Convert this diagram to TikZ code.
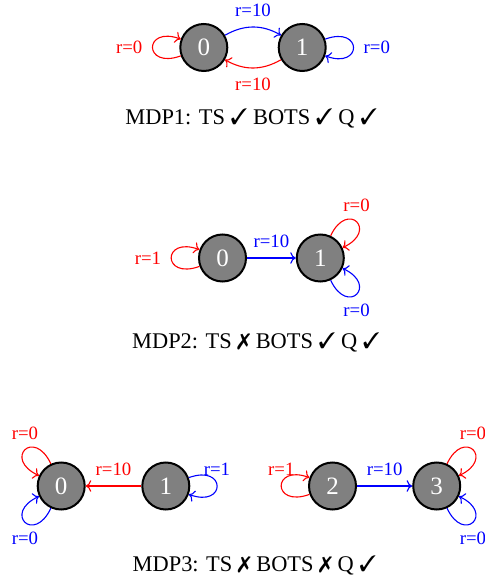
\documentclass[tikz,border=0pt]{standalone}
\usepackage{fontspec}
\setmainfont{Liberation Serif}
\usepackage{pifont}
\usetikzlibrary{arrows.meta}
\begin{document}
\begin{tikzpicture}[x=0.5pt,y=0.5pt,
  state/.style={circle,draw=black,line width=1pt,fill=gray,text=white,minimum size=23.5pt,inner sep=0pt,font=\fontsize{12.5}{13}\selectfont},
  lab/.style={font=\fontsize{9.4}{10}\selectfont},
  edg/.style={line width=0.55pt,-{To[length=2.8pt,width=5.8pt]}},
  redE/.style={edg,red},
  blueE/.style={edg,blue},
  captxt/.style={font=\fontsize{11.2}{13}\selectfont,anchor=base,inner sep=0pt},
  lp/.style={distance=20pt}
]
\useasboundingbox (0,0) rectangle (485,-588);

% MDP1
\node[state] (a0) at (203.8,-47.5) {0};
\node[state] (a1) at (302.2,-47.5) {1};
\draw[blueE] (a0) to[bend left=30] node[lab,above=1.5pt] {r=10} (a1);
\draw[redE] (a1) to[bend left=30] node[lab,below=1.5pt] {r=10} (a0);
\draw[redE] (a0) to[out=200,in=160,lp] node[lab,left=1.5pt] {r=0} (a0);
\draw[blueE] (a1) to[out=20,in=-20,lp] node[lab,right=1.5pt] {r=0} (a1);
\node[captxt] (t1) at (251.3,-125) {MDP1: TS \ding{51} BOTS \ding{51} Q \ding{51}};

% MDP2
\node[state] (b0) at (222.5,-258) {0};
\node[state] (b1) at (320.3,-258) {1};
\draw[blueE] (b0) -- node[lab,above=1.5pt] {r=10} (b1);
\draw[redE] (b0) to[out=200,in=160,lp] node[lab,left=1.5pt] {r=1} (b0);
\draw[redE] (b1) to[out=65,in=25,lp] node[lab,above=1.5pt] {r=0} (b1);
\draw[blueE] (b1) to[out=-65,in=-25,lp] node[lab,below=1.5pt] {r=0} (b1);
\node[captxt] (t2) at (256,-348.3) {MDP2: TS \ding{55} BOTS \ding{51} Q \ding{51}};

% MDP3
\node[state] (c0) at (61.2,-486) {0};
\node[state] (c1) at (165.8,-486) {1};
\node[state] (c2) at (332.5,-486) {2};
\node[state] (c3) at (436.7,-486) {3};
\draw[redE] (c1) -- node[lab,above=1.5pt] {r=10} (c0);
\draw[redE] (c0) to[out=115,in=155,lp] node[lab,above=1.5pt] {r=0} (c0);
\draw[blueE] (c0) to[out=245,in=205,lp] node[lab,below=1.5pt] {r=0} (c0);
\draw[blueE] (c1) to[out=20,in=-20,lp] node[lab,above=1.5pt] {r=1} (c1);
\draw[redE] (c2) to[out=200,in=160,lp] node[lab,above=1.5pt] {r=1} (c2);
\draw[blueE] (c2) -- node[lab,above=1.5pt] {r=10} (c3);
\draw[redE] (c3) to[out=65,in=25,lp] node[lab,above=1.5pt] {r=0} (c3);
\draw[blueE] (c3) to[out=-65,in=-25,lp] node[lab,below=1.5pt] {r=0} (c3);
\node[captxt] (t3) at (254.5,-571.7) {MDP3: TS \ding{55} BOTS \ding{55} Q \ding{51}};
\end{tikzpicture}
\end{document}
